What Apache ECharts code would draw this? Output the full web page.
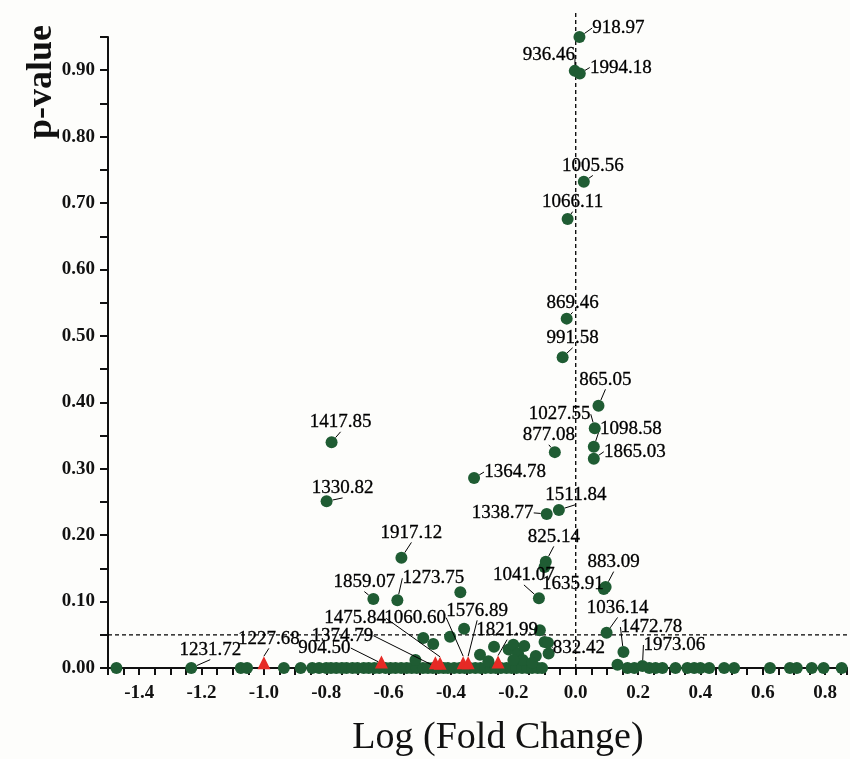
<!DOCTYPE html>
<html>
<head>
<meta charset="utf-8">
<title>Volcano plot</title>
<script src="https://cdn.jsdelivr.net/npm/echarts@6/dist/echarts.min.js"></script>
<style>
    html, body { margin: 0; padding: 0; background: #fdfdfb; }
    #main { width: 850px; height: 759px; }
</style>
</head>
<body>
<div id="main"></div>
<script>
// 标注的点 (绿色)
var labeledNames = ['918.97', '936.46', '1994.18', '1005.56', '1066.11', '869.46', '991.58', '865.05',
    '1027.55', '1098.58', '1865.03', '877.08', '1417.85', '1364.78', '1330.82', '1511.84', '1338.77',
    '825.14', '1917.12', '883.09', '1635.91', '1041.07', '1859.07', '1273.75', '1036.14', '1472.78',
    '1973.06', '832.42', '1231.72'];
var labeledX = [0.012, -0.003, 0.013, 0.026, -0.026, -0.029, -0.042, 0.073,
    0.061, 0.058, 0.058, -0.067, -0.783, -0.326, -0.799, -0.054, -0.093,
    -0.096, -0.559, 0.096, 0.090, -0.118, -0.649, -0.572, 0.099, 0.153,
    0.214, -0.089, -1.233];
var labeledY = [0.950, 0.899, 0.895, 0.732, 0.676, 0.526, 0.468, 0.395,
    0.361, 0.333, 0.315, 0.325, 0.340, 0.286, 0.251, 0.238, 0.232,
    0.160, 0.166, 0.122, 0.119, 0.105, 0.104, 0.102, 0.053, 0.024,
    0.003, 0.038, 0.000];

// 红色三角
var triangleNames = ['1227.68', '904.50', '1374.79', '1475.84', '1060.60', '1576.89', '1821.99'];
var triangleX = [-1.000, -0.623, -0.450, -0.435, -0.361, -0.345, -0.249];
var triangleY = [0.008, 0.009, 0.008, 0.007, 0.008, 0.008, 0.009];

// 未标注的点
var baselineX = [-1.473, -1.074, -1.054, -0.936, -0.882, -0.845, -0.823, -0.800, -0.785, -0.768,
    -0.750, -0.735, -0.716, -0.700, -0.680, -0.664, -0.646, -0.630, -0.610, -0.594, -0.578,
    -0.560, -0.542, -0.526, -0.510, -0.490, -0.474, -0.458, -0.440, -0.424, -0.410, -0.390,
    -0.372, -0.356, -0.340, -0.322, -0.305, -0.290, -0.272, -0.256, -0.240, -0.222, -0.206,
    -0.190, -0.172, -0.155, -0.140, -0.122, -0.108,
    0.166, 0.188, 0.236, 0.256, 0.278, 0.320, 0.358, 0.380, 0.400, 0.428, 0.476, 0.508,
    0.623, 0.687, 0.709, 0.757, 0.795, 0.853];
var otherX = [-0.489, -0.457, -0.403, -0.358, -0.370, -0.514, -0.307, -0.280, -0.262, -0.215,
    -0.200, -0.185, -0.165, -0.170, -0.200, -0.115, -0.100, -0.128, -0.087, -0.100, -0.140, 0.134];
var otherY = [0.045, 0.036, 0.047, 0.059, 0.114, 0.012, 0.020, 0.010, 0.032, 0.028,
    0.035, 0.022, 0.033, 0.012, 0.012, 0.057, 0.039, 0.018, 0.022, 0.152, 0.008, 0.005];

// 阈值线
var cutoffX = 0;
var cutoffY = 0.05;

var xTickLabels = ['-1.4', '-1.2', '-1.0', '-0.8', '-0.6', '-0.4', '-0.2', '0.0', '0.2', '0.4', '0.6', '0.8'];
var yTickLabels = ['0.00', '0.10', '0.20', '0.30', '0.40', '0.50', '0.60', '0.70', '0.80', '0.90'];

// 标签偏移 (像素)
var labelOffsets = [[39, -9], [-26, -16], [41, -6], [9, -16], [5, -17], [6, -16], [10, -19], [7, -26],
    [-35, -14], [37, -18], [41, -7], [-6, -17], [9, -20], [41, -6], [16, -13], [17, -15], [-44, -1],
    [8, -25], [10, -25], [8, -25], [-31, -5], [-15, -23], [-9, -17], [36, -22], [11, -25], [28, -25],
    [32, -21], [31, 5], [19, -18]];
var triangleOffsets = [[5, -24], [-57, -14], [-93, -27], [-85, -45], [-48, -45], [9, -52], [9, -32]];

var serif = "'Liberation Serif', 'Times New Roman', serif";
var green = '#1f5c33';
var red = '#e62a25';

function pairs(xs, ys) {
    return xs.map(function (x, i) { return [x, ys === null ? 0 : ys[i]]; });
}

var dom = document.getElementById('main');
var myChart = echarts.init(dom);
var option = {
    backgroundColor: '#fdfdfb',
    animation: false,
    grid: {
        left: 108,
        right: 0,
        top: 37,
        bottom: 91
    },
    xAxis: {
        type: 'value',
        min: -1.5,
        max: 0.87,
        interval: 0.05,
        splitLine: { show: false },
        axisLine: { onZero: false, lineStyle: { color: '#111', width: 2 } },
        axisTick: { length: 7, interval: 0, lineStyle: { color: '#111', width: 2 } },
        axisLabel: {
            margin: 16,
            fontFamily: serif,
            fontSize: 19,
            fontWeight: 'bold',
            color: '#111',
            formatter: function (v) {
                var r = Math.round(v * 10) / 10;
                if (Math.abs(v - r) > 1e-6) { return ''; }
                if (r === 0) { r = 0; }
                var s = r.toFixed(1);
                return xTickLabels.indexOf(s) >= 0 ? s : '';
            }
        }
    },
    yAxis: {
        type: 'value',
        min: 0,
        max: 0.95,
        interval: 0.05,
        splitLine: { show: false },
        axisLine: { show: true, onZero: false, lineStyle: { color: '#111', width: 2 } },
        axisTick: { show: true, length: 8, interval: 0, lineStyle: { color: '#111', width: 2 } },
        axisLabel: {
            margin: 13,
            fontFamily: serif,
            fontSize: 19,
            fontWeight: 'bold',
            color: '#111',
            formatter: function (v) {
                var s = v.toFixed(2);
                return yTickLabels.indexOf(s) >= 0 ? s : '';
            }
        }
    },
    graphic: [
        {
            type: 'text',
            x: 42,
            y: 82,
            rotation: Math.PI / 2,
            style: {
                text: 'p-value',
                font: 'bold 36px ' + serif,
                fill: '#111',
                textAlign: 'center',
                textVerticalAlign: 'middle'
            }
        },
        {
            type: 'text',
            x: 498,
            y: 738,
            style: {
                text: 'Log (Fold Change)',
                font: '38px ' + serif,
                fill: '#111',
                textAlign: 'center',
                textVerticalAlign: 'middle'
            }
        }
    ],
    series: [
        {
            type: 'line',
            data: [[cutoffX, 0], [cutoffX, 0.99]],
            symbol: 'none',
            clip: false,
            silent: true,
            z: 1,
            lineStyle: { color: '#000', width: 1.3, type: [4, 3] }
        },
        {
            type: 'line',
            data: [[-1.5, cutoffY], [0.87, cutoffY]],
            symbol: 'none',
            clip: false,
            silent: true,
            z: 1,
            lineStyle: { color: '#000', width: 1.3, type: [4, 3] }
        },
        {
            type: 'scatter',
            data: pairs(baselineX, null).concat(pairs(otherX, otherY)),
            symbolSize: 12,
            clip: false,
            itemStyle: { color: green, opacity: 1 },
            z: 2
        },
        {
            type: 'scatter',
            data: labeledNames.map(function (n, i) {
                return { name: n, value: [labeledX[i], labeledY[i]] };
            }),
            symbolSize: 12,
            clip: false,
            itemStyle: { color: green, opacity: 1 },
            z: 3,
            label: {
                show: true,
                position: 'inside',
                formatter: '{b}',
                fontFamily: serif,
                fontSize: 19,
                color: '#000',
                textBorderColor: '#000',
                textBorderWidth: 0.3
            },
            labelLine: { show: true, length2: 0, lineStyle: { color: '#000', width: 1 } },
            labelLayout: function (p) {
                var o = labelOffsets[p.dataIndex];
                return { dx: o[0], dy: o[1] };
            }
        },
        {
            type: 'scatter',
            data: triangleNames.map(function (n, i) {
                return { name: n, value: [triangleX[i], triangleY[i]] };
            }),
            symbol: 'triangle',
            symbolSize: 13,
            clip: false,
            itemStyle: { color: red, opacity: 1 },
            z: 4,
            label: {
                show: true,
                position: 'inside',
                formatter: '{b}',
                fontFamily: serif,
                fontSize: 19,
                color: '#000',
                textBorderColor: '#000',
                textBorderWidth: 0.3
            },
            labelLine: { show: true, length2: 0, lineStyle: { color: '#000', width: 1 } },
            labelLayout: function (p) {
                var o = triangleOffsets[p.dataIndex];
                return { dx: o[0], dy: o[1] };
            }
        }
    ]
};
if (option && typeof option === "object") {
    myChart.setOption(option, true);
}
</script>
</body>
</html>
